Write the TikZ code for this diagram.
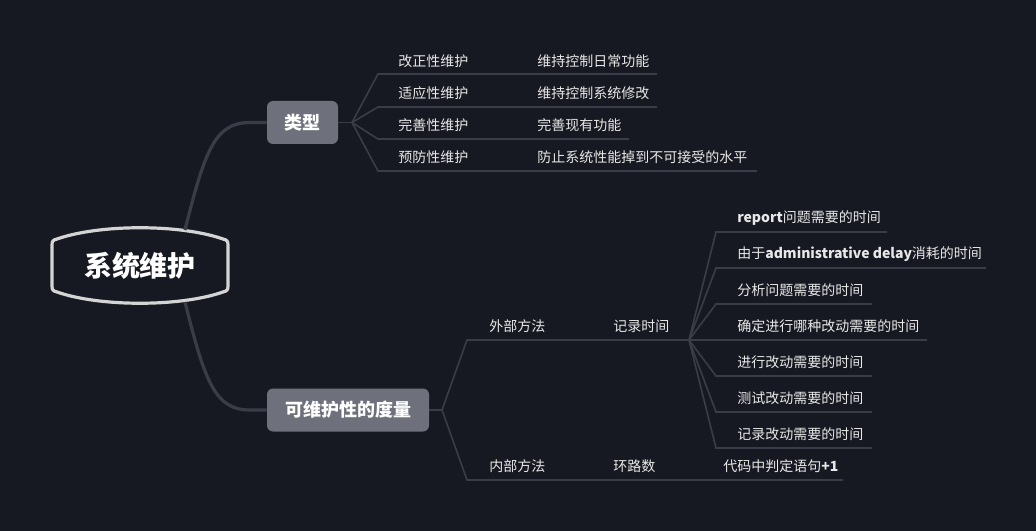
\documentclass[tikz,border=0pt]{standalone}
\usepackage{fontspec}
\setmainfont{Noto Sans CJK SC}
\definecolor{bgc}{RGB}{23,25,34}
\definecolor{linec}{RGB}{58,61,72}
\definecolor{nodec}{RGB}{110,113,124}
\definecolor{txtc}{RGB}{232,232,232}
\definecolor{rootc}{RGB}{212,212,212}
\begin{document}
\begin{tikzpicture}[x=0.75pt,y=-0.75pt,
  thin/.style={draw=linec, line width=1.2pt},
  thick/.style={draw=linec, line width=2.4pt},
  txt/.style={anchor=west, text=txtc, inner sep=0pt, font=\fontsize{10.5pt}{12pt}\selectfont},
  topic/.style={fill=nodec, rounded corners=4.5pt, text=white, inner sep=0pt,
    minimum height=32.25pt, font=\fontsize{13.5pt}{16pt}\selectfont\bfseries}]
\fill[bgc] (0,0) rectangle (1036,531);
\useasboundingbox (0,0) rectangle (1036,531);

% root
\draw[rootc, line width=2.4pt, fill=bgc]
  (52,286) -- (52,245) .. controls (52,241) and (53,240) .. (57,239)
  .. controls (100,224) and (180,224) .. (223,239)
  .. controls (227,240) and (228,241) .. (228,245) -- (228,286)
  .. controls (228,290) and (227,291) .. (223,292)
  .. controls (180,307) and (100,307) .. (57,292)
  .. controls (53,291) and (52,290) .. (52,286) -- cycle;
\node (root) at (140,266) {\fontsize{21pt}{24pt}\selectfont\bfseries\color{white}系统维护};

% main topics
\node[topic, minimum width=53.25pt] (lx) at (302.5,122.5) {类型};
\node[topic, minimum width=121.5pt] (dl) at (348,410) {可维护性的度量};

\coordinate (rt) at (185,230);
\coordinate (rb) at (185,302);
\draw[thick] (rt) .. controls (205,150) and (215,122.5) .. (250,122.5) -- (lx.west);
\draw[thick] (rb) .. controls (205,382) and (215,410) .. (250,410) -- (dl.west);

% 类型 branch
\coordinate (b1) at (352,122.5);
\draw[thin] (lx.east) -- (b1);
\coordinate (a1) at (378,74);  \coordinate (e1) at (657,74);
\coordinate (a2) at (378,107); \coordinate (e2) at (657,107);
\coordinate (a3) at (378,139); \coordinate (e3) at (629,139);
\coordinate (a4) at (378,171); \coordinate (e4) at (757,171);
\draw[thin] (b1) -- (a1) -- (e1);
\draw[thin] (b1) -- (a2) -- (e2);
\draw[thin] (b1) -- (a3) -- (e3);
\draw[thin] (b1) -- (a4) -- (e4);
\node[txt] (t1) at (398,61) {改正性维护};
\node[txt] (t2) at (398,93) {适应性维护};
\node[txt] (t3) at (398,125) {完善性维护};
\node[txt] (t4) at (398,157) {预防性维护};
\node[txt] (u1) at (537,61) {维持控制日常功能};
\node[txt] (u2) at (537,93) {维持控制系统修改};
\node[txt] (u3) at (537,125) {完善现有功能};
\node[txt] (u4) at (537,157) {防止系统性能掉到不可接受的水平};

% 度量 branch
\coordinate (b2) at (442,410);
\draw[thin] (dl.east) -- (b2);
\coordinate (w1) at (467,340); \coordinate (jl) at (689,340);
\coordinate (w2) at (467,480); \coordinate (w2e) at (843,480);
\draw[thin] (b2) -- (w1) -- (jl);
\draw[thin] (b2) -- (w2) -- (w2e);
\node[txt] (wb) at (489,326) {外部方法};
\node[txt] (jlsj) at (613,326) {记录时间};
\node[txt] (nb) at (489,466) {内部方法};
\node[txt] (hls) at (613,466) {环路数};
\node[txt] (dm) at (723,466) {代码中判定语句\textbf{+1}};

% 记录时间 children
\coordinate (c1) at (716,232); \coordinate (d1) at (887,232);
\coordinate (c2) at (716,268); \coordinate (d2) at (986,268);
\coordinate (c3) at (716,304); \coordinate (d3) at (872,304);
\coordinate (d4) at (927,340);
\coordinate (c5) at (716,376); \coordinate (d5) at (872,376);
\coordinate (c6) at (716,412); \coordinate (d6) at (872,412);
\coordinate (c7) at (716,448); \coordinate (d7) at (872,448);
\draw[thin] (jl) -- (c1) -- (d1);
\draw[thin] (jl) -- (c2) -- (d2);
\draw[thin] (jl) -- (c3) -- (d3);
\draw[thin] (jl) -- (d4);
\draw[thin] (jl) -- (c5) -- (d5);
\draw[thin] (jl) -- (c6) -- (d6);
\draw[thin] (jl) -- (c7) -- (d7);
\node[txt] (s1) at (737,218) {\textbf{report}问题需要的时间};
\node[txt] (s2) at (737,254) {由于\textbf{administrative delay}消耗的时间};
\node[txt] (s3) at (737,290) {分析问题需要的时间};
\node[txt] (s4) at (737,326) {确定进行哪种改动需要的时间};
\node[txt] (s5) at (737,362) {进行改动需要的时间};
\node[txt] (s6) at (737,398) {测试改动需要的时间};
\node[txt] (s7) at (737,434) {记录改动需要的时间};
\end{tikzpicture}
\end{document}
